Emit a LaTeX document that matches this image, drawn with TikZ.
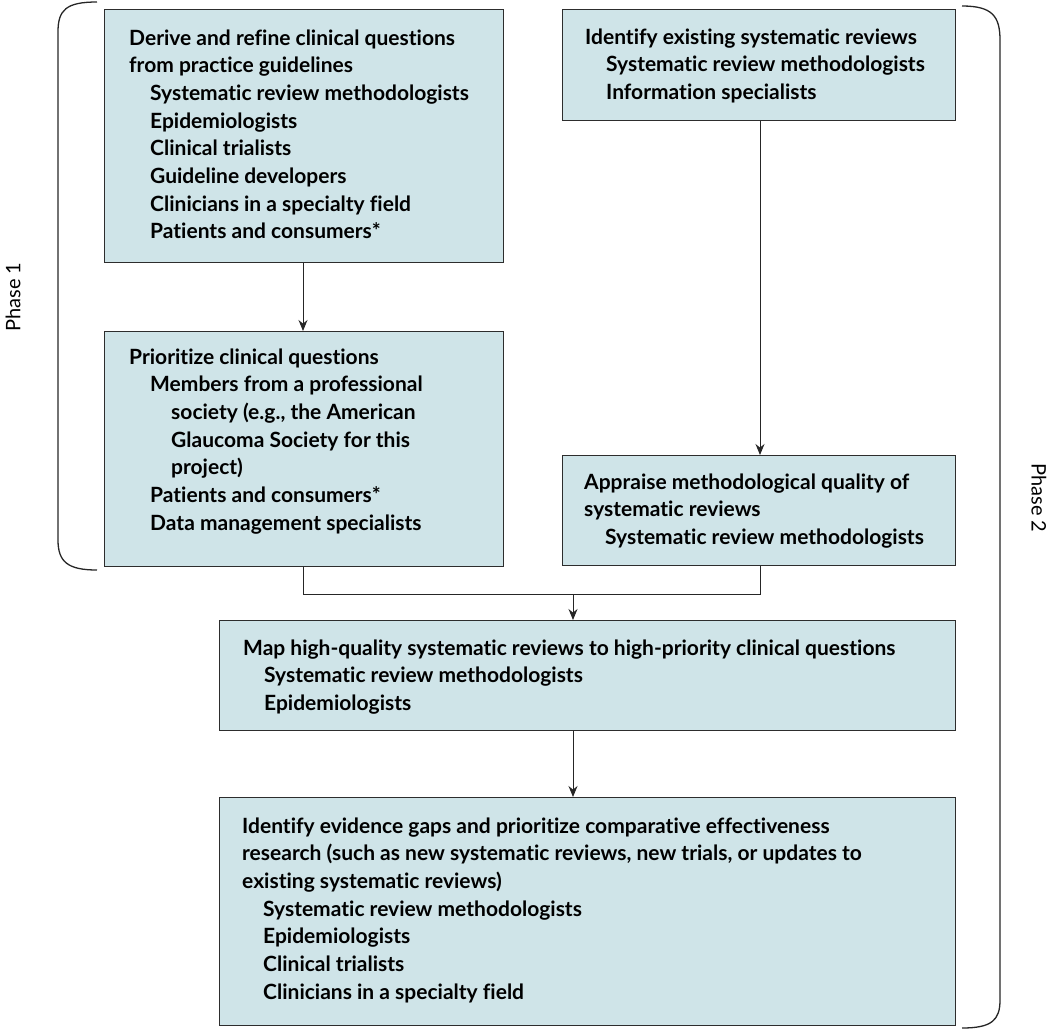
\documentclass[tikz,border=0pt]{standalone}
\usepackage{fontspec}
\setmainfont{Lato}[Ligatures=CommonOff]
\usetikzlibrary{arrows.meta}

\definecolor{boxfill}{RGB}{207,228,232}
\definecolor{boxline}{RGB}{45,45,45}

\newcommand{\inone}{\hspace*{21pt}}
\newcommand{\intwo}{\hspace*{42pt}}

\tikzset{
    stepbox/.style={draw=boxline, fill=boxfill, line width=1.3pt, inner sep=0pt, anchor=north west},
    steptext/.style={anchor=north west, inner sep=0pt, align=left, font=\fontsize{21}{27.7}\selectfont\bfseries},
    phase/.style={font=\fontsize{20}{24}\selectfont, inner sep=0pt},
    flow/.style={line width=1pt, draw=black!85},
    flowarrow/.style={flow, -{Stealth[length=11pt, width=9pt]}},
    bracket/.style={line width=1.3pt, draw=black!85}
}

\begin{document}
\begin{tikzpicture}[x=1pt, y=-1pt]
    \useasboundingbox (0,0) rectangle (1050,1031);

    % Boxes
    \node[stepbox, minimum width=399pt, minimum height=253pt] (derive) at (104,9) {};
    \node[stepbox, minimum width=393pt, minimum height=111pt] (identify) at (562,9) {};
    \node[stepbox, minimum width=399pt, minimum height=235pt] (prioritize) at (104,331) {};
    \node[stepbox, minimum width=393pt, minimum height=110pt] (appraise) at (562,455) {};
    \node[stepbox, minimum width=736pt, minimum height=110pt] (map) at (219,620) {};
    \node[stepbox, minimum width=736pt, minimum height=228pt] (gaps) at (219,797) {};

    % Texts
    \node[steptext] (derivetext) at ([shift={(25,16.5)}]derive.north west) {\strut Derive and refine clinical questions\\
        from practice guidelines\\
        \inone Systematic review methodologists\\
        \inone Epidemiologists\\
        \inone Clinical trialists\\
        \inone Guideline developers\\
        \inone Clinicians in a specialty field\\
        \inone Patients and consumers*};
    \node[steptext] (identifytext) at ([shift={(23,15.5)}]identify.north west) {\strut Identify existing systematic reviews\\
        \inone Systematic review methodologists\\
        \inone Information specialists};
    \node[steptext] (prioritizetext) at ([shift={(25,13.5)}]prioritize.north west) {\strut Prioritize clinical questions\\
        \inone Members from a professional\\
        \intwo society (e.g., the American\\
        \intwo Glaucoma Society for this\\
        \intwo project)\\
        \inone Patients and consumers*\\
        \inone Data management specialists};
    \node[steptext] (appraisetext) at ([shift={(22,14.5)}]appraise.north west) {\strut Appraise methodological quality of\\
        systematic reviews\\
        \inone Systematic review methodologists};
    \node[steptext] (maptext) at ([shift={(24,15.5)}]map.north west) {\strut Map high-quality systematic reviews to high-priority clinical questions\\
        \inone Systematic review methodologists\\
        \inone Epidemiologists};
    \node[steptext] (gapstext) at ([shift={(23,16.5)}]gaps.north west) {\strut Identify evidence gaps and prioritize comparative effectiveness\\
        research (such as new systematic reviews, new trials, or updates to\\
        existing systematic reviews)\\
        \inone Systematic review methodologists\\
        \inone Epidemiologists\\
        \inone Clinical trialists\\
        \inone Clinicians in a specialty field};

    % Connectors
    \coordinate (colleft) at (303,0);
    \coordinate (colright) at (760,0);
    \coordinate (merge) at (573,594);
    \draw[flowarrow] (colleft |- derive.south) -- (colleft |- prioritize.north);
    \draw[flowarrow] (colright |- identify.south) -- (colright |- appraise.north);
    \draw[flow] (colleft |- prioritize.south) -- (colleft |- merge) -- (colright |- merge) -- (colright |- appraise.south);
    \draw[flowarrow] (merge) -- (merge |- map.north);
    \draw[flowarrow] (merge |- map.south) -- (merge |- gaps.north);

    % Phase brackets
    \draw[bracket] (97,2) .. controls (66,2) and (58,10) .. (58,32) -- (58,540) .. controls (58,562) and (68,570) .. (97,570);
    \draw[bracket] (962,6) .. controls (992,6) and (1000,16) .. (1000,40) -- (1000,1000) .. controls (1000,1020) and (992,1028) .. (962,1028);
    \node[phase, rotate=90] (phaseone) at (13,297) {Phase 1};
    \node[phase, rotate=-90] (phasetwo) at (1039,498) {Phase 2};

\end{tikzpicture}
\end{document}
